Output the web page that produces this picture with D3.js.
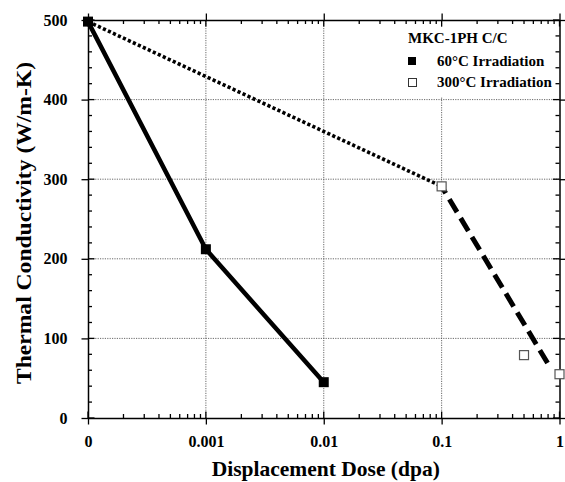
<!DOCTYPE html>
<html>
<head>
<meta charset="utf-8">
<script src="https://cdn.jsdelivr.net/npm/d3@7"></script>
<style>
  html, body { margin: 0; padding: 0; background: #fff; }
  svg text { font-family: "Liberation Serif", "Times New Roman", serif; font-weight: bold; fill: #000; }
</style>
</head>
<body>
<svg id="chart" width="565" height="482"></svg>
<script>
// Thermal conductivity of MKC-1PH C/C composite vs displacement dose
const dose60 = [0, 0.001, 0.01];
const cond60 = [498, 212, 45];

const dose300 = [0.1, 0.5, 1];
const cond300 = [291, 79, 55];

// 300°C trend: dotted from unirradiated value, dashed fit beyond 0.1 dpa
const dottedDose = [0, 0.1];
const dottedCond = [498, 291];
const dashedDose = [0.1, 0.83];
const dashedCond = [291, 64];

const xTickValues = [0, 0.001, 0.01, 0.1, 1];
const xTickLabels = ["0", "0.001", "0.01", "0.1", "1"];
const yTickValues = [0, 100, 200, 300, 400, 500];
const yMinorValues = d3.range(0, 501, 20).filter(v => v % 100 !== 0);

const legendTitle = "MKC-1PH C/C";
const legendLabels = ["60°C Irradiation", "300°C Irradiation"];

const W = 565, H = 482;
const margin = { left: 88, right: 5.5, top: 20, bottom: 64 };
const svg = d3.select("#chart");

// zero dose sits one decade below 0.001 on the log axis
const ZERO_POS = 1e-4;
const x = d3.scaleLog().domain([ZERO_POS, 1]).range([margin.left, W - margin.right]);
const y = d3.scaleLinear().domain([0, 500]).range([H - margin.bottom, margin.top]);
const xp = d => x(d === 0 ? ZERO_POS : d);

const xMinor = [];
for (let e = -4; e < 0; e++) for (let k = 2; k <= 9; k++) xMinor.push(k * Math.pow(10, e));

const x0 = margin.left, x1 = W - margin.right, y0 = H - margin.bottom, y1 = margin.top;

// dotted grid at interior major ticks
const grid = svg.append("g").attr("stroke", "#444").attr("stroke-width", 0.8).attr("stroke-dasharray", "1.2,1.2");
grid.selectAll(".gx").data(xTickValues.filter(v => v > 0 && v < 1)).join("line")
  .attr("x1", d => xp(d)).attr("x2", d => xp(d)).attr("y1", y0).attr("y2", y1);
grid.selectAll(".gy").data(yTickValues.filter(v => v > 0 && v < 500)).join("line")
  .attr("x1", x0).attr("x2", x1).attr("y1", d => y(d)).attr("y2", d => y(d));

// legend panel masks the grid beneath it
svg.append("rect").attr("x", 385).attr("y", 27).attr("width", 168).attr("height", 70).attr("fill", "#fff");

// axes: bottom / left carry labels, all four sides carry ticks
const tickLen = 6.5;
const bottomAxis = d3.axisBottom(x).tickValues(xTickValues.map(v => v === 0 ? ZERO_POS : v))
  .tickFormat((d, i) => xTickLabels[i]).tickSizeInner(tickLen).tickSizeOuter(0).tickPadding(11);
const gb = svg.append("g").attr("transform", `translate(0,${y0})`).call(bottomAxis);
gb.selectAll("text").style("font-size", "16px");

const leftAxis = d3.axisLeft(y).tickValues(yTickValues).tickSizeInner(tickLen).tickSizeOuter(0).tickPadding(14);
const gl = svg.append("g").attr("transform", `translate(${x0},0)`).call(leftAxis);
gl.selectAll("text").style("font-size", "16px");

svg.append("g").attr("transform", `translate(0,${y1})`)
  .call(d3.axisTop(x).tickValues(xTickValues.map(v => v === 0 ? ZERO_POS : v)).tickFormat("").tickSizeInner(tickLen).tickSizeOuter(0));
svg.append("g").attr("transform", `translate(${x1},0)`)
  .call(d3.axisRight(y).tickValues(yTickValues).tickFormat("").tickSizeInner(tickLen).tickSizeOuter(0));

svg.selectAll(".domain").attr("stroke", "#000").attr("stroke-width", 1.5);
svg.selectAll(".tick line").attr("stroke", "#000").attr("stroke-width", 1.3);

// inward halves of major ticks and inward minor ticks
const ticks = svg.append("g").attr("stroke", "#000").attr("stroke-width", 1.3);
const xMaj = xTickValues.map(xp);
ticks.selectAll(".ib").data(xMaj).join("line").attr("x1", d => d).attr("x2", d => d).attr("y1", y0).attr("y2", y0 - tickLen);
ticks.selectAll(".it").data(xMaj).join("line").attr("x1", d => d).attr("x2", d => d).attr("y1", y1).attr("y2", y1 + tickLen);
ticks.selectAll(".il").data(yTickValues).join("line").attr("x1", x0).attr("x2", x0 + tickLen).attr("y1", d => y(d)).attr("y2", d => y(d));
ticks.selectAll(".ir").data(yTickValues).join("line").attr("x1", x1).attr("x2", x1 - tickLen).attr("y1", d => y(d)).attr("y2", d => y(d));
const minLen = 4;
ticks.selectAll(".mb").data(xMinor).join("line").attr("x1", d => x(d)).attr("x2", d => x(d)).attr("y1", y0).attr("y2", y0 - minLen);
ticks.selectAll(".mt").data(xMinor).join("line").attr("x1", d => x(d)).attr("x2", d => x(d)).attr("y1", y1).attr("y2", y1 + minLen);
ticks.selectAll(".ml").data(yMinorValues).join("line").attr("x1", x0).attr("x2", x0 + minLen).attr("y1", d => y(d)).attr("y2", d => y(d));
ticks.selectAll(".mr").data(yMinorValues).join("line").attr("x1", x1).attr("x2", x1 - minLen).attr("y1", d => y(d)).attr("y2", d => y(d));

// axis titles
svg.append("text").attr("x", (x0 + x1) / 2 + 2).attr("y", 476).attr("text-anchor", "middle")
  .style("font-size", "21.5px").text("Displacement Dose (dpa)");
svg.append("text").attr("transform", `translate(31,${(y0 + y1) / 2 + 4}) rotate(-90)`).attr("text-anchor", "middle")
  .style("font-size", "22px").attr("textLength", 322).attr("lengthAdjust", "spacingAndGlyphs")
  .text("Thermal Conductivity (W/m-K)");

// lines
const line = d3.line().x(d => xp(d[0])).y(d => y(d[1]));
svg.append("path").datum(dose60.map((d, i) => [d, cond60[i]]))
  .attr("d", line).attr("fill", "none").attr("stroke", "#000").attr("stroke-width", 4.5).attr("stroke-linejoin", "round");
svg.append("path").datum(dottedDose.map((d, i) => [d, dottedCond[i]]))
  .attr("d", line).attr("fill", "none").attr("stroke", "#000").attr("stroke-width", 3.6).attr("stroke-dasharray", "3.2,2.3");
svg.append("path").datum(dashedDose.map((d, i) => [d, dashedCond[i]]))
  .attr("d", line).attr("fill", "none").attr("stroke", "#000").attr("stroke-width", 5).attr("stroke-dasharray", "15,7").attr("stroke-dashoffset", 7);

// markers
const S = 10;
svg.selectAll(".m60").data(dose60.map((d, i) => [d, cond60[i]])).join("rect")
  .attr("x", d => xp(d[0]) - S / 2).attr("y", d => y(d[1]) - S / 2).attr("width", S).attr("height", S).attr("fill", "#000");
svg.selectAll(".m300").data(dose300.map((d, i) => [d, cond300[i]])).join("rect")
  .attr("x", d => xp(d[0]) - S / 2 + 0.5).attr("y", d => y(d[1]) - S / 2 + 0.5).attr("width", S - 1).attr("height", S - 1)
  .attr("fill", "#fff").attr("stroke", "#555").attr("stroke-width", 1.2);

// legend
const lg = svg.append("g");
lg.append("text").attr("x", 408).attr("y", 43).style("font-size", "15px").text(legendTitle);
lg.append("rect").attr("x", 408).attr("y", 57).attr("width", 8).attr("height", 8).attr("fill", "#000");
lg.append("rect").attr("x", 408.5).attr("y", 78.5).attr("width", 8).attr("height", 8).attr("fill", "#fff").attr("stroke", "#333").attr("stroke-width", 1);
lg.append("text").attr("x", 437).attr("y", 66).style("font-size", "15px").text(legendLabels[0]);
lg.append("text").attr("x", 437).attr("y", 87).style("font-size", "15px").text(legendLabels[1]);
</script>
</body>
</html>
